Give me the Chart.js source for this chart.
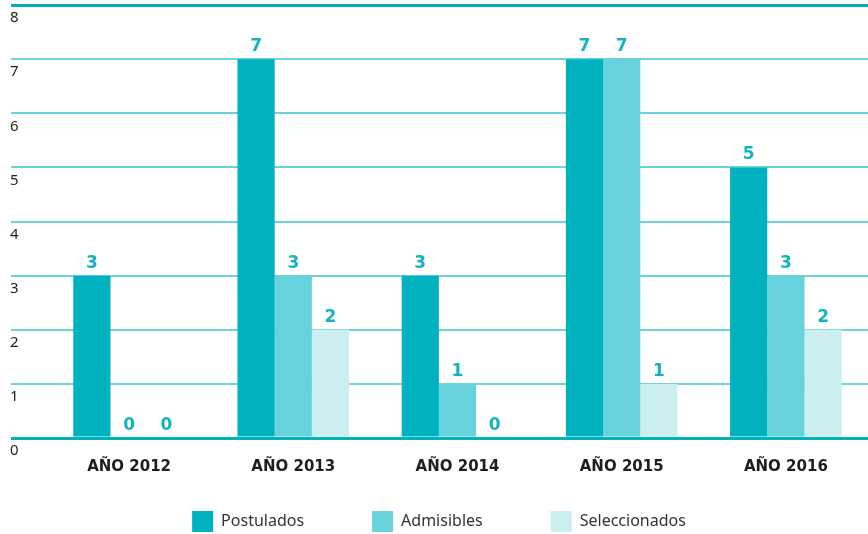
<!DOCTYPE html>
<html>
<head>
<meta charset="utf-8">
<script src="https://cdn.jsdelivr.net/npm/chart.js@4/dist/chart.umd.min.js"></script>
<style>
  html, body { margin: 0; padding: 0; background: #fff; }
  #wrap { width: 868px; height: 534px; }
</style>
</head>
<body>
<div id="wrap"><canvas id="chart" width="868" height="534"></canvas></div>
<script>
// data
const categories = ['AÑO 2012', 'AÑO 2013', 'AÑO 2014', 'AÑO 2015', 'AÑO 2016'];
const postulados = [3, 7, 3, 7, 5];
const admisibles = [0, 3, 1, 7, 3];
const seleccionados = [0, 2, 0, 1, 2];
const yTicks = [0, 1, 2, 3, 4, 5, 6, 7, 8];

const dark = '#00b1c0';
const light = '#6fd3db';
const legendGap = 68;

// numbers above each bar
const valueLabels = {
    id: 'valueLabels',
    afterDatasetsDraw(chart) {
        const ctx = chart.ctx;
        ctx.save();
        ctx.font = 'bold 17px "DejaVu Sans"';
        ctx.fillStyle = '#15b2c0';
        ctx.textAlign = 'center';
        ctx.textBaseline = 'alphabetic';
        chart.data.datasets.forEach(function (ds, i) {
            chart.getDatasetMeta(i).data.forEach(function (bar, j) {
                ctx.fillText(String(ds.data[j]), bar.x, bar.y - 8);
            });
        });
        ctx.restore();
    }
};

// legend padding is also used vertically, so pull the legend row back up under the axis
const legendRow = {
    id: 'legendRow',
    afterLayout(chart) {
        chart.legend.top = chart.scales.x.bottom + 33 - legendGap;
    }
};

const ctx = document.getElementById('chart').getContext('2d');
const chart = new Chart(ctx, {
    type: 'bar',
    data: {
        labels: categories,
        datasets: [
            { label: 'Postulados', data: postulados, backgroundColor: '#00b2c0' },
            { label: 'Admisibles', data: admisibles, backgroundColor: '#67d2db' },
            { label: 'Seleccionados', data: seleccionados, backgroundColor: '#cbeef0' }
        ]
    },
    options: {
        responsive: false,
        animation: false,
        datasets: { bar: { barPercentage: 1, categoryPercentage: 0.68 } },
        layout: { padding: { left: 10, top: 5, right: 0, bottom: 0 } },
        scales: {
            x: {
                grid: { display: false, drawTicks: false },
                border: { display: false },
                ticks: {
                    color: '#1e1e1e',
                    font: { family: '"DejaVu Sans"', size: 15, weight: 'bold' },
                    padding: 20,
                    maxRotation: 0
                },
                afterFit: function (scale) {
                    scale.height = 40;
                    scale.paddingLeft = 0;
                    scale.paddingRight = 0;
                }
            },
            y: {
                min: 0,
                max: 8,
                afterBuildTicks: function (scale) {
                    scale.ticks = yTicks.map(v => ({ value: v }));
                },
                grid: {
                    color: c => (c.tick && (c.tick.value === 0 || c.tick.value === 8)) ? dark : light,
                    lineWidth: c => (c.tick && (c.tick.value === 0 || c.tick.value === 8)) ? 3 : 2,
                    drawTicks: true,
                    tickLength: 36
                },
                border: { display: false },
                ticks: {
                    color: '#1e1e1e',
                    font: { family: '"Noto Sans"', size: 15 },
                    crossAlign: 'far',
                    labelOffset: 13,
                    padding: 0
                },
                afterFit: function (scale) {
                    scale.width = 37;
                    scale.paddingTop = 0;
                    scale.paddingBottom = 0;
                }
            }
        },
        plugins: {
            legend: {
                position: 'bottom',
                maxHeight: 56,
                labels: {
                    boxWidth: 21,
                    boxHeight: 21,
                    padding: legendGap,
                    color: '#333333',
                    font: { family: '"Noto Sans"', size: 16 }
                }
            },
            tooltip: { enabled: false }
        }
    },
    plugins: [valueLabels, legendRow]
});
</script>
</body>
</html>
